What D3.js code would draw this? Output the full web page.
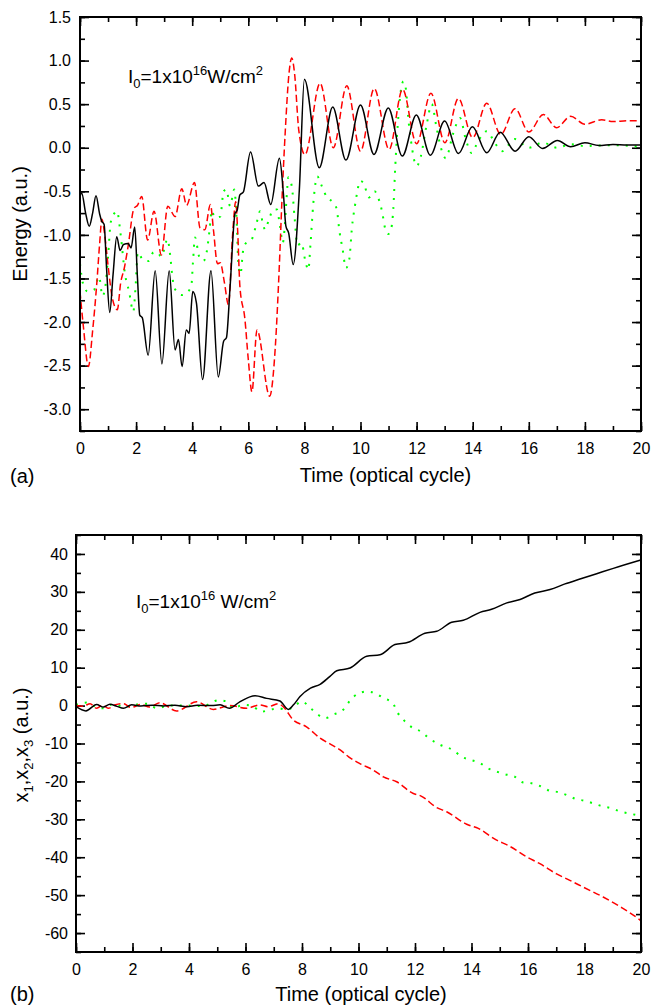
<!DOCTYPE html>
<html>
<head>
<meta charset="utf-8">
<script src="https://cdn.jsdelivr.net/npm/d3@7"></script>
<style>
  body { margin: 0; background: #fff; }
  svg { display: block; font-family: "Liberation Sans", Arial, sans-serif; }
</style>
</head>
<body>
<svg id="chart" width="651" height="1006"></svg>
<script>
// ---- data: [time (optical cycle), value] ----
// panel (a) energy
const energyBlack = [
  [0.00,-0.56],[0.06,-0.52],[0.20,-0.75],[0.33,-0.90],[0.45,-0.75],[0.57,-0.55],[0.70,-0.76],[0.77,-0.84],
  [0.86,-0.88],[0.95,-1.40],[1.06,-1.89],[1.18,-1.45],[1.31,-1.02],[1.43,-1.18],[1.55,-1.11],[1.72,-1.10],
  [1.82,-1.15],[1.95,-0.91],[2.05,-1.50],[2.13,-1.92],[2.22,-1.95],[2.43,-2.38],[2.68,-1.41],[2.92,-2.48],
  [3.18,-1.41],[3.39,-2.32],[3.51,-2.20],[3.64,-2.51],[3.79,-2.09],[3.89,-2.13],[4.02,-1.65],[4.15,-1.78],
  [4.37,-2.66],[4.67,-1.41],[4.93,-2.63],[5.12,-2.22],[5.22,-2.18],[5.35,-1.60],[5.53,-0.75],[5.60,-0.72],
  [5.70,-0.54],[5.82,-0.51],[6.08,-0.05],[6.36,-0.44],[6.56,-0.40],[6.80,-0.65],[7.11,-0.12],[7.25,-0.52],
  [7.34,-0.90],[7.44,-0.98],[7.60,-1.34],[7.82,-0.48],[8.00,0.785],[8.53,-0.23],[9.01,0.467],[9.48,-0.142],
  [10.0,0.49],[10.48,-0.077],[10.99,0.456],[11.49,-0.096],[11.99,0.376],[12.49,-0.085],[13.0,0.306],
  [13.49,-0.066],[13.99,0.24],[14.5,-0.058],[14.98,0.179],[15.51,-0.04],[16.0,0.126],[16.49,-0.008],
  [17.02,0.084],[17.49,0.011],[18.0,0.057],[18.5,0.026],[19.0,0.038],[19.5,0.03],[20.0,0.03]
];
const energyRed = [
  [0.00,-1.65],[0.12,-2.05],[0.30,-2.51],[0.45,-2.10],[0.60,-1.55],[0.70,-1.10],[0.78,-0.82],[0.88,-1.00],
  [1.00,-1.35],[1.15,-1.72],[1.33,-1.86],[1.45,-1.55],[1.58,-1.38],[1.72,-1.12],[1.92,-0.70],[2.05,-0.66],
  [2.20,-0.56],[2.41,-1.06],[2.64,-0.73],[2.90,-1.23],[3.13,-0.67],[3.39,-0.79],[3.63,-0.47],[3.80,-0.66],
  [4.08,-0.40],[4.28,-0.92],[4.45,-0.94],[4.65,-0.65],[4.76,-0.95],[4.90,-1.33],[5.00,-1.32],[5.15,-1.55],
  [5.29,-1.80],[5.45,-0.95],[5.55,-0.62],[5.62,-0.95],[5.70,-1.59],[5.88,-1.97],[6.00,-2.43],[6.13,-2.80],
  [6.31,-2.09],[6.76,-2.85],[6.96,-2.30],[7.10,-1.40],[7.20,-0.60],[7.32,0.20],[7.45,0.85],[7.55,1.03],
  [7.65,0.85],[7.80,0.20],[8.02,-0.08],[8.56,0.74],[9.03,0.0],[9.51,0.71],[10.0,-0.04],[10.49,0.68],
  [11.02,-0.02],[11.5,0.67],[12.0,0.046],[12.51,0.625],[13.01,0.057],[13.49,0.566],[14.0,0.115],[14.5,0.51],
  [15.0,0.153],[15.51,0.448],[16.0,0.18],[16.52,0.382],[16.99,0.23],[17.49,0.36],[18.0,0.27],[18.6,0.32],
  [19.0,0.30],[19.5,0.31],[20.0,0.31]
];
const energyGreen = [
  [0.00,-1.33],[0.10,-1.55],[0.28,-1.65],[0.50,-1.63],[0.68,-1.48],[0.80,-1.70],[0.90,-1.60],[1.00,-1.25],
  [1.10,-0.85],[1.32,-0.73],[1.45,-1.00],[1.60,-1.44],[1.75,-1.65],[1.90,-1.88],[1.98,-1.60],[2.06,-1.20],
  [2.25,-1.29],[2.45,-1.30],[2.62,-1.20],[2.75,-1.20],[2.90,-1.25],[3.12,-1.05],[3.22,-1.25],[3.30,-1.50],
  [3.40,-1.63],[3.63,-1.69],[3.82,-1.66],[3.97,-1.58],[4.03,-1.30],[4.10,-1.03],[4.25,-1.25],[4.40,-1.30],
  [4.52,-1.19],[4.62,-0.94],[4.70,-0.72],[4.80,-0.80],[5.00,-0.79],[5.12,-0.50],[5.22,-0.48],[5.35,-0.67],
  [5.50,-0.48],[5.58,-0.80],[5.65,-1.35],[5.72,-1.45],[5.82,-1.17],[5.95,-1.08],[6.12,-1.05],[6.30,-0.86],
  [6.42,-0.73],[6.50,-0.84],[6.60,-0.94],[6.72,-0.84],[6.90,-0.71],[7.02,-0.71],[7.13,-0.90],[7.23,-1.09],
  [7.30,-0.90],[7.36,-0.60],[7.43,-0.34],[7.55,-0.44],[7.65,-0.80],[7.75,-1.12],[7.90,-1.09],[8.02,-1.28],
  [8.14,-1.40],[8.22,-1.09],[8.32,-0.63],[8.46,-0.33],[8.62,-0.44],[8.80,-0.57],[9.00,-0.62],[9.15,-0.70],
  [9.25,-0.96],[9.36,-1.16],[9.48,-1.38],[9.60,-1.28],[9.70,-0.90],[9.80,-0.67],[9.90,-0.48],[9.97,-0.38],
  [10.1,-0.40],[10.3,-0.57],[10.5,-0.50],[10.67,-0.61],[10.78,-0.75],[10.86,-0.90],[10.99,-0.99],[11.1,-0.92],
  [11.17,-0.70],[11.24,-0.21],[11.35,0.36],[11.45,0.68],[11.53,0.76],[11.62,0.67],[11.70,0.35],[11.80,0.08],
  [12.0,-0.21],[12.15,-0.10],[12.35,0.25],[12.54,0.50],[12.70,0.25],[12.85,0.02],[13.04,-0.12],[13.30,0.16],
  [13.55,0.34],[13.75,0.10],[13.96,-0.06],[14.2,0.08],[14.5,0.19],[14.8,0.05],[15.05,-0.04],[15.5,0.10],
  [16.0,0.0],[16.5,0.06],[17.0,0.0],[17.5,0.04],[18.0,0.02],[19.0,0.03],[20.0,0.01]
];
// panel (b) positions x1, x2, x3
const posBlack = [
  [0,-0.3],[0.35,-1.4],[0.73,0.3],[0.97,-0.4],[1.2,0.35],[1.45,-0.2],[1.68,-0.7],[1.97,0.2],[2.3,-0.1],
  [2.7,0.1],[3.1,-0.1],[3.5,0.1],[3.92,-0.3],[4.3,0.1],[4.8,0.0],[5.1,0.2],[5.43,-0.7],[5.81,1.06],
  [6.34,2.6],[6.75,1.9],[7.22,1.2],[7.52,-1.0],[7.70,0.2],[7.93,2.4],[8.3,4.6],[8.64,5.6],[8.99,7.7],
  [9.23,9.2],[9.70,9.9],[10.29,13.0],[10.76,13.4],[11.29,16.1],[11.76,16.7],[12.35,19.1],[12.77,19.6],
  [13.30,22.0],[13.71,22.5],[14.30,24.6],[14.71,25.4],[15.25,27.1],[15.72,28.0],[16.24,29.7],[16.78,30.6],
  [17.31,32.1],[17.84,33.4],[18.43,34.8],[19.02,36.2],[20.0,38.4]
];
const posRed = [
  [0,0],[0.25,-0.2],[0.5,0.5],[0.73,-0.7],[0.95,0.1],[1.14,-0.7],[1.4,0.2],[1.68,0.5],[1.95,-0.5],[2.3,0.3],
  [2.6,-0.4],[2.97,0.75],[3.56,-1.4],[4.27,1.0],[4.86,-1.0],[5.45,0.0],[6.04,-0.7],[6.51,0.2],[6.8,-0.3],
  [7.16,0.5],[7.34,-0.35],[7.69,-3.8],[8.16,-5.6],[8.64,-8.6],[8.99,-10.1],[9.35,-11.7],[9.65,-13.5],
  [10.05,-15.3],[10.52,-17.0],[10.88,-18.8],[11.35,-20.1],[11.94,-23.2],[12.2,-23.8],[12.77,-26.9],
  [13.12,-28.0],[13.83,-31.3],[14.24,-32.4],[14.89,-35.5],[15.30,-36.9],[15.95,-39.9],[16.42,-41.7],
  [17.01,-44.4],[17.48,-46.1],[17.96,-47.9],[18.66,-50.5],[19.25,-53.0],[19.90,-56.2],[20.0,-56.8]
];
const posGreen = [
  [0,0.2],[0.38,0.8],[0.65,-0.2],[0.97,-0.7],[1.32,0.4],[1.7,-0.3],[2.1,0.2],[2.5,0.5],[2.86,-0.7],[3.3,0.0],
  [3.9,0.0],[4.5,-0.1],[5.04,1.4],[5.33,1.1],[5.57,-0.7],[5.92,0.2],[6.2,0.0],[6.57,-1.6],[6.87,-1.1],
  [7.15,-0.7],[7.46,-1.1],[7.7,-0.3],[8.0,1.1],[8.3,-0.7],[8.83,-3.3],[9.11,-2.4],[9.46,-1.1],[9.70,1.3],
  [9.99,3.2],[10.29,3.7],[10.58,3.3],[10.88,2.0],[11.21,0.7],[11.37,-1.7],[11.61,-3.9],[11.92,-5.9],
  [12.20,-6.8],[12.53,-8.8],[12.88,-10.3],[13.36,-11.8],[13.65,-13.5],[13.95,-14.3],[14.28,-15.1],
  [14.6,-16.6],[14.89,-17.4],[15.18,-18.1],[15.54,-18.8],[15.83,-20.3],[16.13,-20.5],[16.42,-21.2],
  [16.78,-22.5],[17.07,-22.8],[17.37,-23.6],[17.72,-24.7],[18.01,-25.1],[18.31,-25.8],[18.6,-26.5],
  [18.96,-27.1],[19.25,-27.9],[19.6,-28.5],[19.96,-29.1],[20.0,-29.2]
];

const timeTicks = [0, 2, 4, 6, 8, 10, 12, 14, 16, 18, 20];
const energyTicks = [-3.0, -2.5, -2.0, -1.5, -1.0, -0.5, 0.0, 0.5, 1.0, 1.5];
const posTicks = [-60, -50, -40, -30, -20, -10, 0, 10, 20, 30, 40];

const FONT = '"Liberation Sans", Arial, sans-serif';
const svg = d3.select("#chart");

function styleAxis(sel) {
  sel.select(".domain").remove();
  sel.attr("font-size", 16).attr("font-family", FONT);
  sel.selectAll(".tick line").attr("stroke", "#000").attr("stroke-width", 1.6);
  sel.selectAll(".tick text").attr("fill", "#000");
}

function drawPanel(p) {
  const x = d3.scaleLinear().domain([0, 20]).range([p.left, p.right]);
  const y = d3.scaleLinear().domain(p.yDomain).range([p.bottom, p.top]);
  const g = svg.append("g");

  const xMinor = d3.range(0, 20.001, 1);
  const yMinor = d3.range(p.yDomain[0], p.yDomain[1] + 1e-9, p.yMinorStep);

  // minor ticks, all four sides, pointing inward
  g.append("g").attr("transform", `translate(0,${p.bottom})`)
    .call(d3.axisBottom(x).tickValues(xMinor).tickSize(-5).tickFormat("")).call(styleAxis);
  g.append("g").attr("transform", `translate(0,${p.top})`)
    .call(d3.axisTop(x).tickValues(xMinor).tickSize(-5).tickFormat("")).call(styleAxis);
  g.append("g").attr("transform", `translate(${p.left},0)`)
    .call(d3.axisLeft(y).tickValues(yMinor).tickSize(-5).tickFormat("")).call(styleAxis);
  g.append("g").attr("transform", `translate(${p.right},0)`)
    .call(d3.axisRight(y).tickValues(yMinor).tickSize(-5).tickFormat("")).call(styleAxis);

  // major ticks
  g.append("g").attr("transform", `translate(0,${p.bottom})`)
    .call(d3.axisBottom(x).tickValues(timeTicks).tickSize(-9).tickPadding(12).tickFormat((d) => String(d)))
    .call(styleAxis);
  g.append("g").attr("transform", `translate(0,${p.top})`)
    .call(d3.axisTop(x).tickValues(timeTicks).tickSize(-9).tickFormat("")).call(styleAxis);
  g.append("g").attr("transform", `translate(${p.left},0)`)
    .call(d3.axisLeft(y).tickValues(p.yTicks).tickSize(-9).tickPadding(p.yPad).tickFormat(p.fmt))
    .call(styleAxis);
  g.append("g").attr("transform", `translate(${p.right},0)`)
    .call(d3.axisRight(y).tickValues(p.yTicks).tickSize(-9).tickFormat("")).call(styleAxis);

  const line = d3.line()
    .x((d) => x(d[0]))
    .y((d) => y(d[1]))
    .curve(d3.curveMonotoneX);

  g.append("path").datum(p.green).attr("d", line)
    .attr("fill", "none").attr("stroke", "#00ff00").attr("stroke-width", 2)
    .attr("stroke-dasharray", "2,7");
  g.append("path").datum(p.red).attr("d", line)
    .attr("fill", "none").attr("stroke", "#ff0000").attr("stroke-width", 1.5)
    .attr("stroke-dasharray", "7,3.5");
  g.append("path").datum(p.black).attr("d", line)
    .attr("fill", "none").attr("stroke", "#000").attr("stroke-width", 1.5);

  // frame
  g.append("rect")
    .attr("x", p.left).attr("y", p.top)
    .attr("width", p.right - p.left).attr("height", p.bottom - p.top)
    .attr("fill", "none").attr("stroke", "#000").attr("stroke-width", 2);

  return g;
}

const ga = drawPanel({
  left: 80, right: 641, top: 17, bottom: 431,
  yDomain: [-3.25, 1.5], yMinorStep: 0.25, yTicks: energyTicks, yPad: 9,
  fmt: (d) => d.toFixed(1),
  black: energyBlack, red: energyRed, green: energyGreen
});

const gb = drawPanel({
  left: 76, right: 641, top: 535, bottom: 952,
  yDomain: [-65, 45], yMinorStep: 5, yTicks: posTicks, yPad: 8,
  fmt: (d) => String(d),
  black: posBlack, red: posRed, green: posGreen
});

// intensity annotations
function intensity(g, x, y, space) {
  const t = g.append("text").attr("x", x).attr("y", y)
    .attr("font-family", FONT).attr("font-size", 19).attr("fill", "#000");
  t.append("tspan").text("I");
  t.append("tspan").attr("dy", 5).attr("font-size", 13).text("0");
  t.append("tspan").attr("dy", -5).text("=1x10");
  t.append("tspan").attr("dy", -8).attr("font-size", 13).text("16");
  t.append("tspan").attr("dy", 8).text((space ? " " : "") + "W/cm");
  t.append("tspan").attr("dy", -8).attr("font-size", 13).text("2");
}
intensity(ga, 128, 83, false);
intensity(gb, 136, 608, true);

// axis titles
svg.append("text").attr("x", 385.5).attr("y", 482).attr("text-anchor", "middle")
  .attr("font-family", FONT).attr("font-size", 20).text("Time (optical cycle)");
svg.append("text").attr("x", 361).attr("y", 1001).attr("text-anchor", "middle")
  .attr("font-family", FONT).attr("font-size", 20).text("Time (optical cycle)");

svg.append("text").attr("transform", "translate(27,224) rotate(-90)").attr("text-anchor", "middle")
  .attr("font-family", FONT).attr("font-size", 20).text("Energy (a.u.)");

const yl = svg.append("text").attr("transform", "translate(28,745) rotate(-90)")
  .attr("text-anchor", "middle").attr("font-family", FONT).attr("font-size", 20);
yl.append("tspan").text("x");
yl.append("tspan").attr("dy", 5).attr("font-size", 13).text("1");
yl.append("tspan").attr("dy", -5).text(",x");
yl.append("tspan").attr("dy", 5).attr("font-size", 13).text("2");
yl.append("tspan").attr("dy", -5).text(",x");
yl.append("tspan").attr("dy", 5).attr("font-size", 13).text("3");
yl.append("tspan").attr("dy", -5).text(" (a.u.)");

// panel letters
svg.append("text").attr("x", 10).attr("y", 483)
  .attr("font-family", FONT).attr("font-size", 20).text("(a)");
svg.append("text").attr("x", 10).attr("y", 1001)
  .attr("font-family", FONT).attr("font-size", 20).text("(b)");
</script>
</body>
</html>
